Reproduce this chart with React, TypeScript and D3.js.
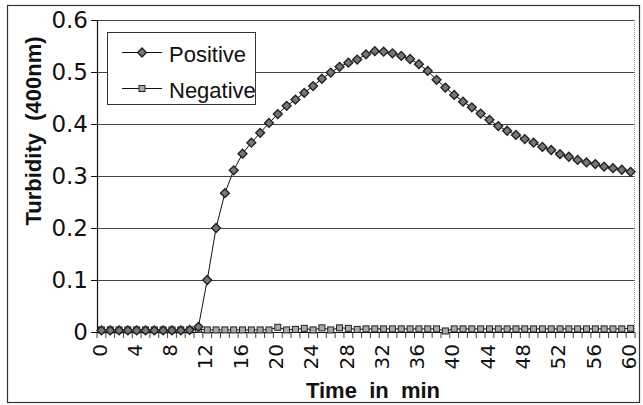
import React from "react";
import * as d3 from "d3";

const minutes: number[] = d3.range(0, 61);
const positive: number[] = [
  0.003, 0.003, 0.003, 0.003, 0.003, 0.003, 0.003, 0.003, 0.003, 0.003, 0.004,
  0.01, 0.1, 0.2, 0.267, 0.311, 0.343, 0.364, 0.383, 0.402, 0.419,
  0.435, 0.447, 0.46, 0.473, 0.487, 0.499, 0.51, 0.518, 0.524, 0.534,
  0.54, 0.539, 0.536, 0.531, 0.525, 0.515, 0.502, 0.485, 0.47, 0.456,
  0.443, 0.432, 0.42, 0.408, 0.396, 0.387, 0.379, 0.371, 0.364, 0.356,
  0.35, 0.342, 0.337, 0.331, 0.326, 0.323, 0.318, 0.315, 0.312, 0.308,
];
const negative: number[] = [
  0.004, 0.004, 0.004, 0.004, 0.004, 0.004, 0.004, 0.004, 0.004, 0.004, 0.004,
  0.005, 0.004, 0.004, 0.004, 0.004, 0.004, 0.004, 0.004, 0.004, 0.009,
  0.004, 0.005, 0.007, 0.004, 0.008, 0.004, 0.008, 0.007, 0.005, 0.006,
  0.006, 0.006, 0.006, 0.006, 0.006, 0.006, 0.006, 0.006, 0.002, 0.006,
  0.006, 0.006, 0.006, 0.006, 0.006, 0.006, 0.006, 0.006, 0.006, 0.006,
  0.006, 0.006, 0.006, 0.006, 0.006, 0.006, 0.006, 0.006, 0.006, 0.007,
];
const yTicks: number[] = [0, 0.1, 0.2, 0.3, 0.4, 0.5, 0.6];
const xLabelMinutes: number[] = d3.range(0, 61, 4);
const seriesNames: string[] = ["Positive", "Negative"];

const W = 643;
const H = 405;
const plot = { left: 97, right: 635, top: 20, bottom: 332 };

export default function App() {
  const x = d3
    .scaleBand<number>()
    .domain(minutes)
    .range([plot.left, plot.right])
    .paddingInner(0)
    .paddingOuter(0);
  const cx = (m: number) => (x(m) as number) + x.bandwidth() / 2;
  const y = d3.scaleLinear().domain([0, 0.6]).range([plot.bottom, plot.top]);

  const line = d3
    .line<number>()
    .x((_, i) => cx(minutes[i]))
    .y((v) => y(v));

  const diamond = (px: number, py: number, r: number) =>
    `M${px},${py - r}L${px + r},${py}L${px},${py + r}L${px - r},${py}Z`;

  const tickBoundaries = d3.range(0, minutes.length + 1).map(
    (i) => plot.left + i * x.bandwidth()
  );

  const tickFont = "'DejaVu Sans', sans-serif";
  const labelFont = "'Liberation Sans', Arial, sans-serif";

  return (
    <svg
      width={W}
      height={H}
      style={{ position: "absolute", left: 0, top: 0, background: "#fff" }}
    >
      <rect x={0} y={0} width={W} height={H} fill="#fff" />
      {/* outer frame */}
      <rect x={7.5} y={5.5} width={632} height={397} fill="none" stroke="#333" strokeWidth={1.2} />

      {/* gridlines */}
      {yTicks.filter((t) => t > 0).map((t) => (
        <line
          key={"g" + t}
          x1={plot.left}
          x2={plot.right}
          y1={Math.round(y(t)) + 0.5}
          y2={Math.round(y(t)) + 0.5}
          stroke="#444"
          strokeWidth={1.2}
        />
      ))}
      {/* right plot border dotted */}
      <line
        x1={plot.right - 0.5}
        x2={plot.right - 0.5}
        y1={plot.top}
        y2={plot.bottom}
        stroke="#999"
        strokeWidth={1}
        strokeDasharray="1,1"
      />

      {/* axes */}
      <line x1={plot.left + 0.5} x2={plot.left + 0.5} y1={plot.top} y2={plot.bottom} stroke="#111" strokeWidth={1.2} />
      <line x1={plot.left} x2={plot.right} y1={plot.bottom + 0.5} y2={plot.bottom + 0.5} stroke="#111" strokeWidth={1.2} />

      {/* y ticks */}
      {yTicks.map((t) => (
        <g key={"yt" + t}>
          <line
            x1={plot.left - 6}
            x2={plot.left}
            y1={Math.round(y(t)) + 0.5}
            y2={Math.round(y(t)) + 0.5}
            stroke="#111"
          />
          <text
            x={88}
            y={y(t)}
            dy="0.36em"
            textAnchor="end"
            fontFamily={tickFont}
            fontSize={23}
            fill="#111"
          >
            {t === 0 ? "0" : d3.format(".1f")(t)}
          </text>
        </g>
      ))}

      {/* x ticks */}
      {tickBoundaries.map((bx, i) => (
        <line
          key={"xt" + i}
          x1={bx}
          x2={bx}
          y1={plot.bottom}
          y2={plot.bottom + 6}
          stroke="#111"
          strokeWidth={0.8}
        />
      ))}
      {xLabelMinutes.map((m) => (
        <text
          key={"xl" + m}
          transform={`translate(${cx(m) - 2},344) rotate(-90)`}
          textAnchor="end"
          dy="0.36em"
          fontFamily={tickFont}
          fontSize={20}
          fill="#111"
        >
          {String(m)}
        </text>
      ))}

      {/* series lines */}
      <path d={line(negative) ?? ""} fill="none" stroke="#111" strokeWidth={1} />
      <path d={line(positive) ?? ""} fill="none" stroke="#111" strokeWidth={1} />
      {negative.map((v, i) => (
        <rect
          key={"n" + i}
          x={cx(minutes[i]) - 3}
          y={y(v) - 3}
          width={6}
          height={6}
          fill="#aaa"
          stroke="#222"
          strokeWidth={1}
        />
      ))}
      {positive.map((v, i) => (
        <path
          key={"p" + i}
          d={diamond(cx(minutes[i]), y(v), 4.4)}
          fill="#777"
          stroke="#222"
          strokeWidth={1.4}
        />
      ))}

      {/* legend */}
      <rect x={107.5} y={32.5} width={148} height={72} fill="#fff" stroke="#333" strokeWidth={1} />
      {seriesNames.map((name, i) => {
        const ly = 52 + i * 36;
        return (
          <g key={name}>
            <line x1={122} x2={162} y1={ly + 0.5} y2={ly + 0.5} stroke="#111" strokeWidth={1} />
            {i === 0 ? (
              <path d={diamond(142, ly + 0.5, 4.4)} fill="#777" stroke="#222" strokeWidth={1.4} />
            ) : (
              <rect x={139} y={ly - 2.5} width={6} height={6} fill="#aaa" stroke="#222" strokeWidth={1} />
            )}
            <text x={169} y={ly + 10} fontFamily={labelFont} fontSize={22} fill="#111">
              {name}
            </text>
          </g>
        );
      })}

      {/* axis titles */}
      <text
        x={373}
        y={398}
        textAnchor="middle"
        fontFamily={labelFont}
        fontWeight="bold"
        fontSize={22}
        fill="#111"
        style={{ whiteSpace: "pre" }}
      >
        {"Time  in  min"}
      </text>
      <text
        transform="translate(41,131) rotate(-90)"
        textAnchor="middle"
        fontFamily={labelFont}
        fontWeight="bold"
        fontSize={22}
        fill="#111"
        style={{ whiteSpace: "pre" }}
      >
        {"Turbidity  (400nm)"}
      </text>
    </svg>
  );
}
